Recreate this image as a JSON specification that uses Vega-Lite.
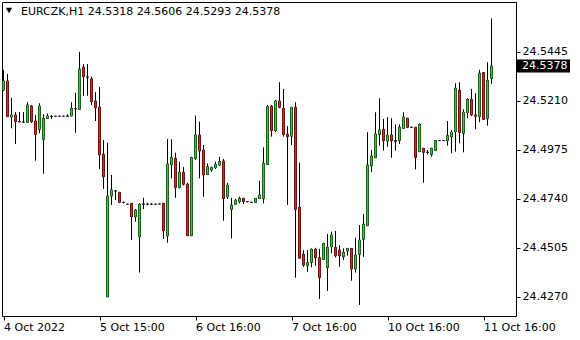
{
  "$schema": "https://vega.github.io/schema/vega-lite/v6.json",
  "width": 514,
  "height": 314,
  "autosize": {"type": "none"},
  "padding": {"left": 2, "top": 2, "right": 64, "bottom": 24},
  "background": "white",
  "config": {
    "view": {"stroke": "black", "strokeWidth": 1},
    "font": "DejaVu Sans",
    "axis": {"labelFont": "DejaVu Sans", "labelFontSize": 11, "labelColor": "black", "tickColor": "black", "tickSize": 4, "domain": false, "grid": false, "title": null}
  },
  "datasets": {
    "header": [{"label": "EURCZK,H1  24.5318 24.5606 24.5293 24.5378", "price": 24.5378}]
  },
  "data": {"values": [
    {"i":0,"o":24.5263,"h":24.5359,"l":24.5258,"c":24.5306},
    {"i":1,"o":24.5306,"h":24.5340,"l":24.5133,"c":24.5135},
    {"i":2,"o":24.5133,"h":24.5226,"l":24.5079,"c":24.5143},
    {"i":3,"o":24.5143,"h":24.5157,"l":24.5004,"c":24.5111},
    {"i":4,"o":24.5111,"h":24.5157,"l":24.5109,"c":24.5110},
    {"i":5,"o":24.5109,"h":24.5157,"l":24.5106,"c":24.5109},
    {"i":6,"o":24.5108,"h":24.5204,"l":24.5108,"c":24.5191},
    {"i":7,"o":24.5186,"h":24.5191,"l":24.5105,"c":24.5111},
    {"i":8,"o":24.5114,"h":24.5143,"l":24.4924,"c":24.5050},
    {"i":9,"o":24.5074,"h":24.5199,"l":24.5055,"c":24.5186},
    {"i":10,"o":24.5026,"h":24.5146,"l":24.4861,"c":24.5127},
    {"i":11,"o":24.5127,"h":24.5150,"l":24.5124,"c":24.5138},
    {"i":12,"o":24.5135,"h":24.5143,"l":24.5124,"c":24.5136},
    {"i":13,"o":24.5137,"h":24.5137,"l":24.5137,"c":24.5137},
    {"i":14,"o":24.5137,"h":24.5137,"l":24.5137,"c":24.5137},
    {"i":15,"o":24.5137,"h":24.5137,"l":24.5137,"c":24.5137},
    {"i":16,"o":24.5137,"h":24.5146,"l":24.5137,"c":24.5138},
    {"i":17,"o":24.5138,"h":24.5204,"l":24.5137,"c":24.5175},
    {"i":18,"o":24.5173,"h":24.5250,"l":24.5057,"c":24.5172},
    {"i":19,"o":24.5170,"h":24.5446,"l":24.5170,"c":24.5363},
    {"i":20,"o":24.5372,"h":24.5387,"l":24.5235,"c":24.5327},
    {"i":21,"o":24.5325,"h":24.5387,"l":24.5235,"c":24.5324},
    {"i":22,"o":24.5316,"h":24.5327,"l":24.5191,"c":24.5207},
    {"i":23,"o":24.5210,"h":24.5252,"l":24.5114,"c":24.5178},
    {"i":24,"o":24.5181,"h":24.5277,"l":24.4884,"c":24.4951},
    {"i":25,"o":24.4954,"h":24.5023,"l":24.4788,"c":24.4847},
    {"i":26,"o":24.4271,"h":24.5010,"l":24.4271,"c":24.4754},
    {"i":27,"o":24.4754,"h":24.4855,"l":24.4711,"c":24.4783},
    {"i":28,"o":24.4778,"h":24.4783,"l":24.4735,"c":24.4779},
    {"i":29,"o":24.4772,"h":24.4772,"l":24.4722,"c":24.4724},
    {"i":30,"o":24.4724,"h":24.4727,"l":24.4719,"c":24.4723},
    {"i":31,"o":24.4715,"h":24.4715,"l":24.4715,"c":24.4715},
    {"i":32,"o":24.4719,"h":24.4719,"l":24.4543,"c":24.4655},
    {"i":33,"o":24.4655,"h":24.4692,"l":24.4631,"c":24.4686},
    {"i":34,"o":24.4559,"h":24.4719,"l":24.4387,"c":24.4715},
    {"i":35,"o":24.4715,"h":24.4746,"l":24.4692,"c":24.4716},
    {"i":36,"o":24.4715,"h":24.4722,"l":24.4710,"c":24.4715},
    {"i":37,"o":24.4715,"h":24.4720,"l":24.4712,"c":24.4715},
    {"i":38,"o":24.4715,"h":24.4715,"l":24.4715,"c":24.4715},
    {"i":39,"o":24.4716,"h":24.4716,"l":24.4716,"c":24.4716},
    {"i":40,"o":24.4719,"h":24.4720,"l":24.4548,"c":24.4587},
    {"i":41,"o":24.4563,"h":24.5028,"l":24.4530,"c":24.4908},
    {"i":42,"o":24.4905,"h":24.5026,"l":24.4839,"c":24.4940},
    {"i":43,"o":24.4935,"h":24.4962,"l":24.4746,"c":24.4796},
    {"i":44,"o":24.4796,"h":24.4919,"l":24.4791,"c":24.4868},
    {"i":45,"o":24.4868,"h":24.4893,"l":24.4805,"c":24.4811},
    {"i":46,"o":24.4811,"h":24.4818,"l":24.4564,"c":24.4564},
    {"i":47,"o":24.4564,"h":24.4943,"l":24.4562,"c":24.4938},
    {"i":48,"o":24.4935,"h":24.5140,"l":24.4927,"c":24.5047},
    {"i":49,"o":24.5047,"h":24.5111,"l":24.4839,"c":24.4970},
    {"i":50,"o":24.4975,"h":24.4999,"l":24.4751,"c":24.4855},
    {"i":51,"o":24.4858,"h":24.4911,"l":24.4855,"c":24.4895},
    {"i":52,"o":24.4879,"h":24.4895,"l":24.4871,"c":24.4890},
    {"i":53,"o":24.4890,"h":24.4919,"l":24.4884,"c":24.4906},
    {"i":54,"o":24.4903,"h":24.4943,"l":24.4898,"c":24.4919},
    {"i":55,"o":24.4922,"h":24.4932,"l":24.4636,"c":24.4743},
    {"i":56,"o":24.4750,"h":24.4818,"l":24.4740,"c":24.4806},
    {"i":57,"o":24.4691,"h":24.4746,"l":24.4551,"c":24.4711},
    {"i":58,"o":24.4715,"h":24.4741,"l":24.4711,"c":24.4734},
    {"i":59,"o":24.4727,"h":24.4751,"l":24.4719,"c":24.4743},
    {"i":60,"o":24.4743,"h":24.4746,"l":24.4715,"c":24.4727},
    {"i":61,"o":24.4727,"h":24.4727,"l":24.4727,"c":24.4727},
    {"i":62,"o":24.4724,"h":24.4724,"l":24.4724,"c":24.4724},
    {"i":63,"o":24.4724,"h":24.4743,"l":24.4724,"c":24.4743},
    {"i":64,"o":24.4743,"h":24.4828,"l":24.4740,"c":24.4759},
    {"i":65,"o":24.4743,"h":24.4988,"l":24.4719,"c":24.4911},
    {"i":66,"o":24.4906,"h":24.5191,"l":24.4905,"c":24.5183},
    {"i":67,"o":24.5186,"h":24.5191,"l":24.5039,"c":24.5068},
    {"i":68,"o":24.5068,"h":24.5215,"l":24.5060,"c":24.5210},
    {"i":69,"o":24.5210,"h":24.5300,"l":24.5175,"c":24.5180},
    {"i":70,"o":24.5175,"h":24.5268,"l":24.5039,"c":24.5050},
    {"i":71,"o":24.5050,"h":24.5090,"l":24.4711,"c":24.5039},
    {"i":72,"o":24.5042,"h":24.5181,"l":24.4999,"c":24.5180},
    {"i":73,"o":24.5180,"h":24.5204,"l":24.4363,"c":24.4691},
    {"i":74,"o":24.4700,"h":24.4914,"l":24.4455,"c":24.4456},
    {"i":75,"o":24.4475,"h":24.4495,"l":24.4415,"c":24.4423},
    {"i":76,"o":24.4420,"h":24.4495,"l":24.4391,"c":24.4436},
    {"i":77,"o":24.4436,"h":24.4503,"l":24.4412,"c":24.4499},
    {"i":78,"o":24.4499,"h":24.4506,"l":24.4420,"c":24.4458},
    {"i":79,"o":24.4458,"h":24.4501,"l":24.4260,"c":24.4363},
    {"i":80,"o":24.4451,"h":24.4528,"l":24.4448,"c":24.4527},
    {"i":81,"o":24.4412,"h":24.4572,"l":24.4299,"c":24.4508},
    {"i":82,"o":24.4511,"h":24.4583,"l":24.4480,"c":24.4567},
    {"i":83,"o":24.4508,"h":24.4587,"l":24.4460,"c":24.4468},
    {"i":84,"o":24.4495,"h":24.4519,"l":24.4415,"c":24.4468},
    {"i":85,"o":24.4463,"h":24.4503,"l":24.4448,"c":24.4484},
    {"i":86,"o":24.4491,"h":24.4504,"l":24.4468,"c":24.4503},
    {"i":87,"o":24.4503,"h":24.4504,"l":24.4348,"c":24.4404},
    {"i":88,"o":24.4404,"h":24.4554,"l":24.4387,"c":24.4471},
    {"i":89,"o":24.4475,"h":24.4615,"l":24.4232,"c":24.4543},
    {"i":90,"o":24.4547,"h":24.4668,"l":24.4463,"c":24.4619},
    {"i":91,"o":24.4612,"h":24.5060,"l":24.4610,"c":24.4903},
    {"i":92,"o":24.4900,"h":24.4975,"l":24.4868,"c":24.4946},
    {"i":93,"o":24.4938,"h":24.5156,"l":24.4937,"c":24.5052},
    {"i":94,"o":24.5050,"h":24.5223,"l":24.4996,"c":24.5071},
    {"i":95,"o":24.5074,"h":24.5124,"l":24.4972,"c":24.5020},
    {"i":96,"o":24.5018,"h":24.5132,"l":24.4991,"c":24.5047},
    {"i":97,"o":24.5047,"h":24.5127,"l":24.4938,"c":24.5020},
    {"i":98,"o":24.5020,"h":24.5098,"l":24.4972,"c":24.5017},
    {"i":99,"o":24.5020,"h":24.5098,"l":24.5004,"c":24.5084},
    {"i":100,"o":24.5079,"h":24.5156,"l":24.5078,"c":24.5132},
    {"i":101,"o":24.5127,"h":24.5130,"l":24.5083,"c":24.5084},
    {"i":102,"o":24.5084,"h":24.5084,"l":24.5084,"c":24.5084},
    {"i":103,"o":24.5084,"h":24.5085,"l":24.4882,"c":24.4940},
    {"i":104,"o":24.4967,"h":24.5103,"l":24.4966,"c":24.5098},
    {"i":105,"o":24.4983,"h":24.4984,"l":24.4818,"c":24.4964},
    {"i":106,"o":24.4964,"h":24.4975,"l":24.4954,"c":24.4964},
    {"i":107,"o":24.4954,"h":24.4986,"l":24.4943,"c":24.4983},
    {"i":108,"o":24.4972,"h":24.5021,"l":24.4971,"c":24.5020},
    {"i":109,"o":24.5020,"h":24.5020,"l":24.5020,"c":24.5020},
    {"i":110,"o":24.5020,"h":24.5020,"l":24.5020,"c":24.5020},
    {"i":111,"o":24.5020,"h":24.5114,"l":24.4996,"c":24.5044},
    {"i":112,"o":24.5039,"h":24.5071,"l":24.4959,"c":24.5060},
    {"i":113,"o":24.5063,"h":24.5295,"l":24.4967,"c":24.5271},
    {"i":114,"o":24.5261,"h":24.5300,"l":24.5007,"c":24.5060},
    {"i":115,"o":24.5055,"h":24.5170,"l":24.4964,"c":24.5156},
    {"i":116,"o":24.5154,"h":24.5223,"l":24.5127,"c":24.5218},
    {"i":117,"o":24.5218,"h":24.5268,"l":24.5138,"c":24.5143},
    {"i":118,"o":24.5143,"h":24.5247,"l":24.5074,"c":24.5137},
    {"i":119,"o":24.5135,"h":24.5359,"l":24.5108,"c":24.5343},
    {"i":120,"o":24.5346,"h":24.5348,"l":24.5121,"c":24.5122},
    {"i":121,"o":24.5127,"h":24.5396,"l":24.5092,"c":24.5309},
    {"i":122,"o":24.5318,"h":24.5606,"l":24.5293,"c":24.5378}
  ]},
  "layer": [
    {
      "mark": {"type": "rule", "color": "black", "strokeWidth": 1},
      "encoding": {
        "x": {"field": "i", "type": "quantitative", "scale": {"domain": [-0.375, 128.125], "nice": false, "zero": false, "padding": 0},
          "axis": {"values": [0, 24, 48, 72, 96, 120], "labelAlign": "left", "labelBaseline": "top", "labelPadding": 1, "labelDx": -1, "labelFlush": false, "labelOverlap": false,
            "labelExpr": "['4 Oct 2022','5 Oct 15:00','6 Oct 16:00','7 Oct 16:00','10 Oct 16:00','11 Oct 16:00'][round(datum.value/24)]"}},
        "y": {"field": "l", "type": "quantitative", "scale": {"domain": [24.41788, 24.56848], "nice": false, "zero": false, "padding": 0},
          "axis": {"orient": "right", "values": [24.427, 24.4505, 24.474, 24.4975, 24.521, 24.5445], "format": ".4f", "labelPadding": 2, "labelOverlap": false, "labelFlush": false}},
        "y2": {"field": "h"}
      }
    },
    {
      "mark": {"type": "bar", "width": 2, "fill": "black", "stroke": "black", "strokeWidth": 1},
      "encoding": {
        "x": {"field": "i", "type": "quantitative"},
        "y": {"field": "o", "type": "quantitative"},
        "y2": {"field": "c"}
      }
    },
    {
      "mark": {"type": "bar", "width": 2, "strokeWidth": 0},
      "encoding": {
        "x": {"field": "i", "type": "quantitative"},
        "y": {"field": "o", "type": "quantitative"},
        "y2": {"field": "c"},
        "fill": {"condition": {"test": "datum.c > datum.o", "value": "#35c935"}, "value": "#e82020"}
      }
    },
    {
      "data": {"name": "header"},
      "mark": {"type": "point", "shape": "triangle-down", "filled": true, "color": "black", "size": 40, "opacity": 1},
      "encoding": {
        "x": {"datum": 1.375, "type": "quantitative"},
        "y": {"datum": 24.5644, "type": "quantitative"}
      }
    },
    {
      "data": {"name": "header"},
      "mark": {"type": "text", "align": "left", "baseline": "middle", "font": "DejaVu Sans", "fontSize": 11, "color": "black"},
      "encoding": {
        "x": {"datum": 4.375, "type": "quantitative"},
        "y": {"datum": 24.5637, "type": "quantitative"},
        "text": {"field": "label"}
      }
    },
    {
      "data": {"name": "header"},
      "mark": {"type": "rect", "color": "black", "clip": false},
      "encoding": {
        "x": {"datum": 128.375, "type": "quantitative"},
        "x2": {"datum": 141.625},
        "y": {"datum": 24.53468, "type": "quantitative"},
        "y2": {"datum": 24.54092}
      }
    },
    {
      "data": {"name": "header"},
      "mark": {"type": "text", "align": "left", "baseline": "middle", "font": "DejaVu Sans", "fontSize": 11, "color": "white", "clip": false},
      "encoding": {
        "x": {"datum": 129.625, "type": "quantitative"},
        "y": {"field": "price", "type": "quantitative"},
        "text": {"field": "price", "format": ".4f"}
      }
    }
  ]
}
